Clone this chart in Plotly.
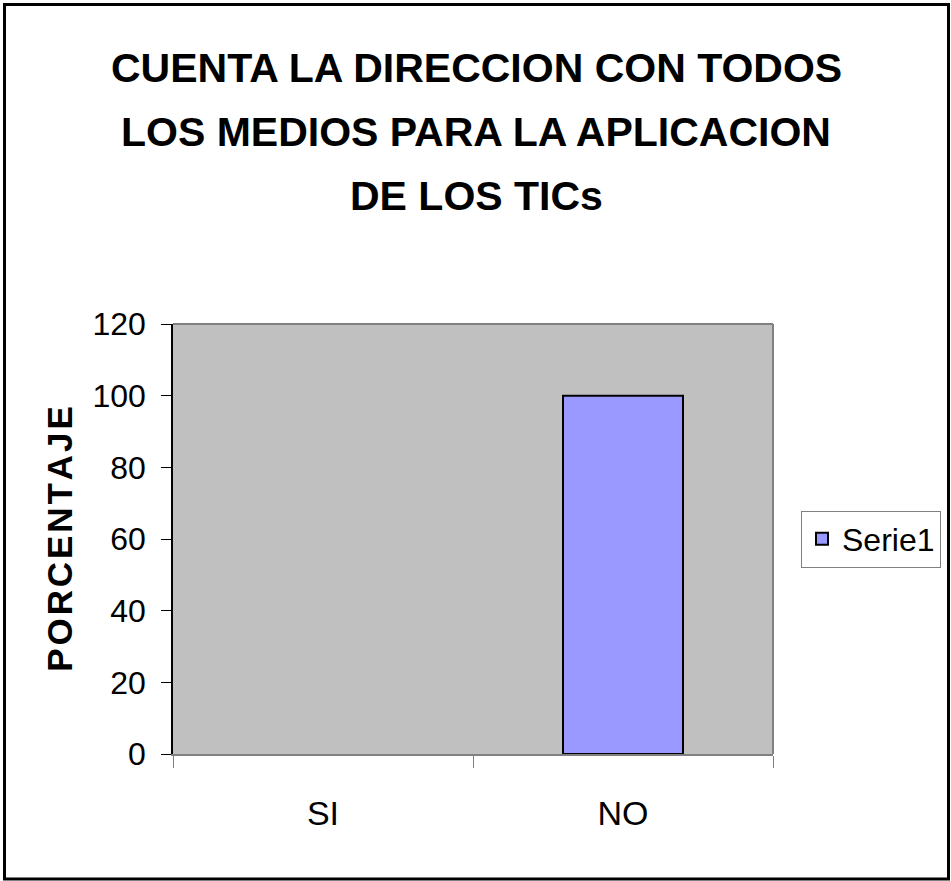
import plotly.graph_objects as go

# Chart data
categorias = ["SI", "NO"]
porcentaje = [0, 100]
serie = "Serie1"
y_ticks = [0, 20, 40, 60, 80, 100, 120]
titulo = ["CUENTA LA DIRECCION CON TODOS", "LOS MEDIOS PARA LA APLICACION", "DE LOS TICs"]
titulo_eje_y = "PORCENTAJE"

# Page and plot-area geometry (pixels)
W, H = 951, 881
L, R, T, B = 173, 178, 324, 127
PW, PH = W - L - R, H - T - B
FONT = "Liberation Sans Narrow, Arial Narrow, Liberation Sans, Arial, sans-serif"
TITLE_ROWS = [68, 132, 196]  # vertical centre of each title line


def px_x(x):
    return (x - L) / PW


def px_y(y):
    return (H - B - y) / PH


# Points are fed last-to-first so the legend swatch takes the outlined
# style of a non-empty bar; the axis keeps the category order.
orden = list(reversed(range(len(categorias))))
fig = go.Figure(
    go.Bar(
        x=[categorias[i] for i in orden],
        y=[porcentaje[i] for i in orden],
        name=serie,
        width=0.4,
        marker=dict(
            color="#9999FF",
            line=dict(color="black",
                      width=[2 if porcentaje[i] else 0 for i in orden]),
        ),
    )
)

# Three-line chart title, one annotation per line
for texto, fila in zip(titulo, TITLE_ROWS):
    fig.add_annotation(
        text="<b>%s</b>" % texto,
        xref="paper", yref="paper",
        x=px_x(476), y=px_y(fila),
        xanchor="center", yanchor="middle",
        showarrow=False,
        font=dict(family=FONT, size=41, color="black"),
    )

fig.update_layout(
    width=W,
    height=H,
    margin=dict(l=L, r=R, t=T, b=B, pad=0, autoexpand=False),
    paper_bgcolor="white",
    plot_bgcolor="#C0C0C0",
    font=dict(family=FONT, color="black", size=32),
    showlegend=True,
    legend=dict(
        x=px_x(801),
        xanchor="left",
        y=0.5,
        yanchor="middle",
        bgcolor="white",
        bordercolor="#808080",
        borderwidth=1,
        font=dict(family=FONT, size=32, color="black"),
        itemwidth=30,
    ),
    xaxis=dict(
        type="category",
        categoryorder="array",
        categoryarray=categorias,
        range=[-0.5, 1.5],
        showline=True,
        linecolor="#808080",
        linewidth=2,
        ticks="outside",
        tickson="boundaries",
        ticklen=12,
        tickcolor="#808080",
        tickwidth=1,
        ticklabelstandoff=28,
        showgrid=False,
        zeroline=False,
        tickfont=dict(family=FONT, size=34),
    ),
    yaxis=dict(
        range=[0, 120],
        tickvals=y_ticks,
        showline=True,
        linecolor="black",
        linewidth=1.5,
        ticks="outside",
        ticklen=10,
        tickcolor="black",
        tickwidth=1,
        ticklabelstandoff=9,
        showgrid=False,
        zeroline=False,
        tickfont=dict(family=FONT, size=32),
        title=dict(
            text="<b>%s</b>" % "\u200a".join(titulo_eje_y),
            font=dict(family=FONT, size=35),
            standoff=9,
        ),
    ),
    shapes=[
        # top and right edges of the plot area
        dict(type="line", xref="paper", yref="paper", x0=0, x1=1, y0=1, y1=1,
             line=dict(color="#808080", width=2), layer="below"),
        dict(type="line", xref="paper", yref="paper", x0=1, x1=1, y0=0, y1=1,
             line=dict(color="#808080", width=2), layer="below"),
        # frame around the whole chart
        dict(type="rect", xref="paper", yref="paper",
             x0=px_x(4.5), x1=px_x(948.5), y0=px_y(879), y1=px_y(4.5),
             line=dict(color="black", width=3), fillcolor="rgba(0,0,0,0)", layer="above"),
    ],
)

fig.write_html("out.html")
